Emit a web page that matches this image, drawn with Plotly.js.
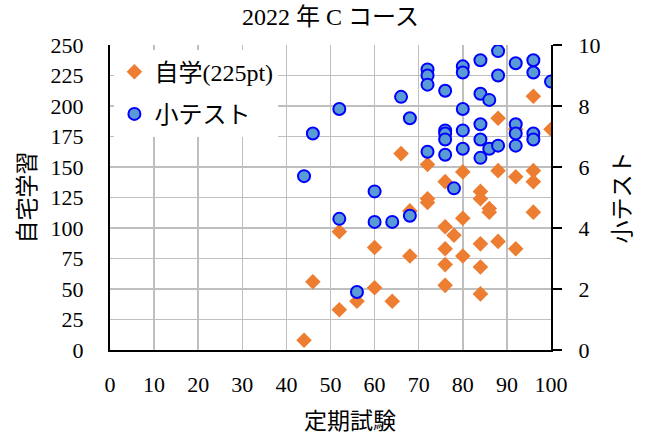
<!DOCTYPE html>
<html>
<head>
<meta charset="utf-8">
<script src="https://cdn.plot.ly/plotly-3.0.1.min.js"></script>
<style>html,body{margin:0;padding:0;background:#fff;}#chart{width:646px;height:436px;}</style>
</head>
<body>
<div id="chart"></div>
<script>
// 自学 (left axis, 225pt)
const selfStudyX = [44,46,52,52,56,60,60,64,66,68,68,72,72,72,76,76,76,76,76,78,80,80,80,84,84,84,84,84,86,86,88,88,88,92,92,92,96,96,96,96,100];
const selfStudyY = [8,56,33,97,40,51,84,40,161,77,114,152,124,121,138,101,83,70,53,94,146,108,77,130,124,87,68,46,116,113,190,147,89,181,142,83,208,147,138,113,181];
// 小テスト (right axis)
const quizX = [44,46,52,52,56,60,60,64,66,68,68,72,72,72,72,76,76,76,76,76,78,80,80,80,80,80,84,84,84,84,84,86,86,88,88,88,92,92,92,92,96,96,96,96,100];
const quizY = [5.7,7.1,7.9,4.3,1.9,5.2,4.2,4.2,8.3,7.6,4.4,9.2,9.0,8.7,6.5,8.5,7.2,7.1,6.9,6.4,5.3,9.3,9.1,7.9,7.2,6.6,9.5,8.4,7.4,6.9,6.3,8.2,6.6,9.8,9.0,6.7,9.4,7.4,7.1,6.7,9.5,9.1,7.1,6.9,8.8];

const titleText = "2022 年 C コース";
const xTitle = "定期試験";
const yTitle = "自宅学習";
const y2Title = "小テスト";
const seriesNames = ["自学(225pt)", "小テスト"];

const FONT = "'Liberation Serif', 'Noto Sans CJK JP', serif";

const traces = [
  {
    x: selfStudyX, y: selfStudyY, name: seriesNames[0], type: "scatter", mode: "markers",
    legendgroup: "a",
    marker: {symbol: "diamond", size: 12, color: "#ED7D31", line: {width: 0}},
    yaxis: "y"
  },
  {
    x: quizX, y: quizY, name: seriesNames[1], type: "scatter", mode: "markers",
    legendgroup: "b",
    marker: {symbol: "circle", size: 12, color: "#5B9BD5", line: {width: 2, color: "#0000FF"}},
    yaxis: "y2"
  }
];

const layout = {
  width: 646, height: 436,
  margin: {l: 110, r: 95, t: 45, b: 86, pad: 0},
  paper_bgcolor: "#fff", plot_bgcolor: "#fff",
  font: {family: FONT, size: 22, color: "#000"},
  title: {text: titleText, font: {family: FONT, size: 24, color: "#000"}, x: 0.5, xref: "paper", y: 0.962, yanchor: "middle"},
  showlegend: true,
  legend: {
    x: 0.01, y: 0.985, xanchor: "left", yanchor: "top", xref: "paper", yref: "paper",
    bgcolor: "#fff", borderwidth: 0, font: {family: FONT, size: 24, color: "#000"},
    traceorder: "grouped", tracegroupgap: 8, itemwidth: 30
  },
  xaxis: {
    range: [0, 100], dtick: 10, tick0: 0,
    showgrid: true, gridcolor: "#BFBFBF", gridwidth: 1.5,
    showline: true, linecolor: "#000", linewidth: 2,
    ticks: "", ticklabelstandoff: 14,
    zeroline: false,
    tickfont: {family: FONT, size: 22}
  },
  yaxis: {
    range: [0, 250], dtick: 25, tick0: 0,
    showgrid: true, gridcolor: "#BFBFBF", gridwidth: 1.5,
    showline: true, linecolor: "#000", linewidth: 2,
    ticks: "", ticklabelstandoff: 20,
    zeroline: false,
    title: {text: yTitle, font: {family: FONT, size: 23, color: "#000"}, standoff: 9},
    tickfont: {family: FONT, size: 22}
  },
  yaxis2: {
    range: [0, 10], dtick: 2, tick0: 0,
    overlaying: "y", side: "right",
    showgrid: false, zeroline: false,
    showline: true, linecolor: "#000", linewidth: 2,
    ticks: "outside", ticklen: 9, tickwidth: 2, tickcolor: "#000", ticklabelstandoff: 12,
    title: {text: y2Title, font: {family: FONT, size: 23, color: "#000"}, standoff: 14},
    tickfont: {family: FONT, size: 22}
  },
  annotations: [
    {text: xTitle, xref: "paper", yref: "paper", x: 0.544, y: -0.233, xanchor: "center", yanchor: "middle",
     showarrow: false, font: {family: FONT, size: 23, color: "#000"}}
  ]
};

Plotly.newPlot("chart", traces, layout, {displayModeBar: false, staticPlot: true});
</script>
</body>
</html>
